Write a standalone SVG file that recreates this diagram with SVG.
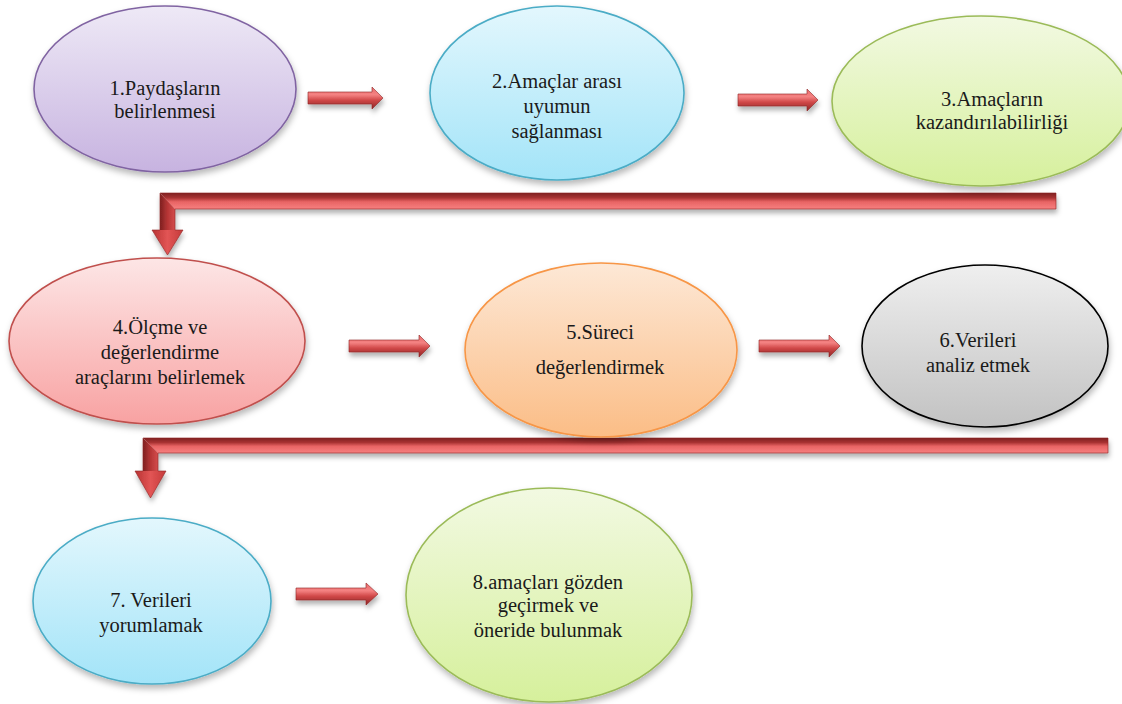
<svg xmlns="http://www.w3.org/2000/svg" width="1122" height="704" viewBox="0 0 1122 704">
<style>
.e{stroke-width:1.6;filter:url(#sh)}
</style>
<defs>
<filter id="sh" x="-20%" y="-20%" width="140%" height="150%"><feDropShadow dx="1" dy="4" stdDeviation="3" flood-color="#000" flood-opacity="0.28"/></filter>
<filter id="ash" x="-20%" y="-50%" width="140%" height="250%"><feDropShadow dx="1" dy="4" stdDeviation="2.5" flood-color="#000" flood-opacity="0.3"/></filter>
<linearGradient id="gPur" x1="0" y1="0" x2="0" y2="1"><stop offset="0" stop-color="#eee9f6"/><stop offset="1" stop-color="#c7b3e0"/></linearGradient>
<linearGradient id="gBlu" x1="0" y1="0" x2="0" y2="1"><stop offset="0" stop-color="#e3f7fd"/><stop offset="1" stop-color="#a3e4f8"/></linearGradient>
<linearGradient id="gGrn" x1="0" y1="0" x2="0" y2="1"><stop offset="0" stop-color="#f2f9e2"/><stop offset="1" stop-color="#d6f09c"/></linearGradient>
<linearGradient id="gPnk" x1="0" y1="0" x2="0" y2="1"><stop offset="0" stop-color="#fde6e6"/><stop offset="1" stop-color="#f8a2a2"/></linearGradient>
<linearGradient id="gOra" x1="0" y1="0" x2="0" y2="1"><stop offset="0" stop-color="#fde8d6"/><stop offset="1" stop-color="#fbbd86"/></linearGradient>
<linearGradient id="gGry" x1="0" y1="0" x2="0" y2="1"><stop offset="0" stop-color="#efefef"/><stop offset="1" stop-color="#c2c2c2"/></linearGradient>
<linearGradient id="aH" x1="0" y1="0" x2="0" y2="1"><stop offset="0" stop-color="#e86a6a"/><stop offset="0.35" stop-color="#f48282"/><stop offset="0.6" stop-color="#d04848"/><stop offset="1" stop-color="#8e2626"/></linearGradient>
<linearGradient id="bH" x1="0" y1="0" x2="0" y2="1"><stop offset="0" stop-color="#7e2020"/><stop offset="0.3" stop-color="#a83232"/><stop offset="0.55" stop-color="#e86464"/><stop offset="1" stop-color="#f78080"/></linearGradient>
<linearGradient id="bV" x1="0" y1="0" x2="1" y2="0"><stop offset="0" stop-color="#7e2020"/><stop offset="0.5" stop-color="#b63636"/><stop offset="1" stop-color="#d44c4c"/></linearGradient>
<linearGradient id="hd" x1="0" y1="0" x2="1" y2="0"><stop offset="0" stop-color="#b83333"/><stop offset="0.5" stop-color="#e25555"/><stop offset="1" stop-color="#c43a3a"/></linearGradient>
</defs>

<g id="connectors">
  <path filter="url(#ash)" fill="url(#aH)" stroke="#8e2626" stroke-width="0.6" d="M308,92 H372 V87 L383,98 L372,109 V104 H308 Z"/>
  <path filter="url(#ash)" fill="url(#aH)" stroke="#8e2626" stroke-width="0.6" d="M738,94 H807 V89 L818,100 L807,111 V106 H738 Z"/>
  <path filter="url(#ash)" fill="url(#aH)" stroke="#8e2626" stroke-width="0.6" d="M349,340 H419 V335 L430,346 L419,357 V352 H349 Z"/>
  <path filter="url(#ash)" fill="url(#aH)" stroke="#8e2626" stroke-width="0.6" d="M759,340 H829 V335 L840,346 L829,357 V352 H759 Z"/>
  <path filter="url(#ash)" fill="url(#aH)" stroke="#8e2626" stroke-width="0.6" d="M296,588 H366 V583 L378,594 L366,605 V600 H296 Z"/>

  <g id="elbow1" filter="url(#ash)">
    <path fill="url(#bH)" d="M160,193 H1056 V209 H175 Z"/>
    <path fill="url(#bV)" d="M160,193 L175,209 V231 H160 Z"/>
    <path fill="url(#hd)" d="M152,230 H183 L167.5,255 Z"/>
    <path fill="none" stroke="#8e2626" stroke-width="0.6" d="M160,193 H1056 V209 H175 V230 H183 L167.5,255 L152,230 H160 Z"/>
  </g>
  <g id="elbow2" filter="url(#ash)">
    <path fill="url(#bH)" d="M143,438 H1108 V453 H158 Z"/>
    <path fill="url(#bV)" d="M143,438 L158,453 V472 H143 Z"/>
    <path fill="url(#hd)" d="M135,471 H166 L150.5,498 Z"/>
    <path fill="none" stroke="#8e2626" stroke-width="0.6" d="M143,438 H1108 V453 H158 V471 H166 L150.5,498 L135,471 H143 Z"/>
  </g>
</g>

<g id="node1">
  <ellipse class="e" cx="165" cy="89" rx="131" ry="83" fill="url(#gPur)" stroke="#8064a2"/>
  <text x="165" y="95" font-family="Liberation Serif" font-size="20.5" text-anchor="middle" fill="#1a1a1a">1.Paydaşların</text>
  <text x="165" y="118" font-family="Liberation Serif" font-size="20.5" text-anchor="middle" fill="#1a1a1a">belirlenmesi</text>
</g>
<g id="node2">
  <ellipse class="e" cx="557" cy="93" rx="127" ry="87" fill="url(#gBlu)" stroke="#4bacc6"/>
  <text x="557" y="88" font-family="Liberation Serif" font-size="20.5" text-anchor="middle" fill="#1a1a1a">2.Amaçlar arası</text>
  <text x="557" y="113" font-family="Liberation Serif" font-size="20.5" text-anchor="middle" fill="#1a1a1a">uyumun</text>
  <text x="557" y="138" font-family="Liberation Serif" font-size="20.5" text-anchor="middle" fill="#1a1a1a">sağlanması</text>
</g>
<g id="node3">
  <ellipse class="e" cx="981" cy="101" rx="149" ry="85" fill="url(#gGrn)" stroke="#9bbb59"/>
  <text x="992" y="106" font-family="Liberation Serif" font-size="20.5" text-anchor="middle" fill="#1a1a1a">3.Amaçların</text>
  <text x="992" y="129" font-family="Liberation Serif" font-size="20.5" text-anchor="middle" fill="#1a1a1a">kazandırılabilirliği</text>
</g>
<g id="node4">
  <ellipse class="e" cx="157" cy="341" rx="148" ry="83" fill="url(#gPnk)" stroke="#c0504d"/>
  <text x="160" y="334" font-family="Liberation Serif" font-size="20.5" text-anchor="middle" fill="#1a1a1a">4.Ölçme ve</text>
  <text x="160" y="359" font-family="Liberation Serif" font-size="20.5" text-anchor="middle" fill="#1a1a1a">değerlendirme</text>
  <text x="160" y="384" font-family="Liberation Serif" font-size="20.5" text-anchor="middle" fill="#1a1a1a">araçlarını belirlemek</text>
</g>
<g id="node5">
  <ellipse class="e" cx="601" cy="350" rx="136" ry="87" fill="url(#gOra)" stroke="#f79646"/>
  <text x="600" y="339" font-family="Liberation Serif" font-size="20.5" text-anchor="middle" fill="#1a1a1a">5.Süreci</text>
  <text x="600" y="374" font-family="Liberation Serif" font-size="20.5" text-anchor="middle" fill="#1a1a1a">değerlendirmek</text>
</g>
<g id="node6">
  <ellipse class="e" cx="985" cy="346" rx="123" ry="81" fill="url(#gGry)" stroke="#000"/>
  <text x="978" y="347" font-family="Liberation Serif" font-size="20.5" text-anchor="middle" fill="#1a1a1a">6.Verileri</text>
  <text x="978" y="372" font-family="Liberation Serif" font-size="20.5" text-anchor="middle" fill="#1a1a1a">analiz etmek</text>
</g>
<g id="node7">
  <ellipse class="e" cx="152" cy="601" rx="119" ry="83" fill="url(#gBlu)" stroke="#4bacc6"/>
  <text x="151" y="607" font-family="Liberation Serif" font-size="20.5" text-anchor="middle" fill="#1a1a1a">7. Verileri</text>
  <text x="151" y="632" font-family="Liberation Serif" font-size="20.5" text-anchor="middle" fill="#1a1a1a">yorumlamak</text>
</g>
<g id="node8">
  <ellipse class="e" cx="549" cy="595" rx="143" ry="107" fill="url(#gGrn)" stroke="#9bbb59"/>
  <text x="548" y="589" font-family="Liberation Serif" font-size="20.5" text-anchor="middle" fill="#1a1a1a">8.amaçları gözden</text>
  <text x="548" y="612" font-family="Liberation Serif" font-size="20.5" text-anchor="middle" fill="#1a1a1a">geçirmek ve</text>
  <text x="548" y="637" font-family="Liberation Serif" font-size="20.5" text-anchor="middle" fill="#1a1a1a">öneride bulunmak</text>
</g>
</svg>
